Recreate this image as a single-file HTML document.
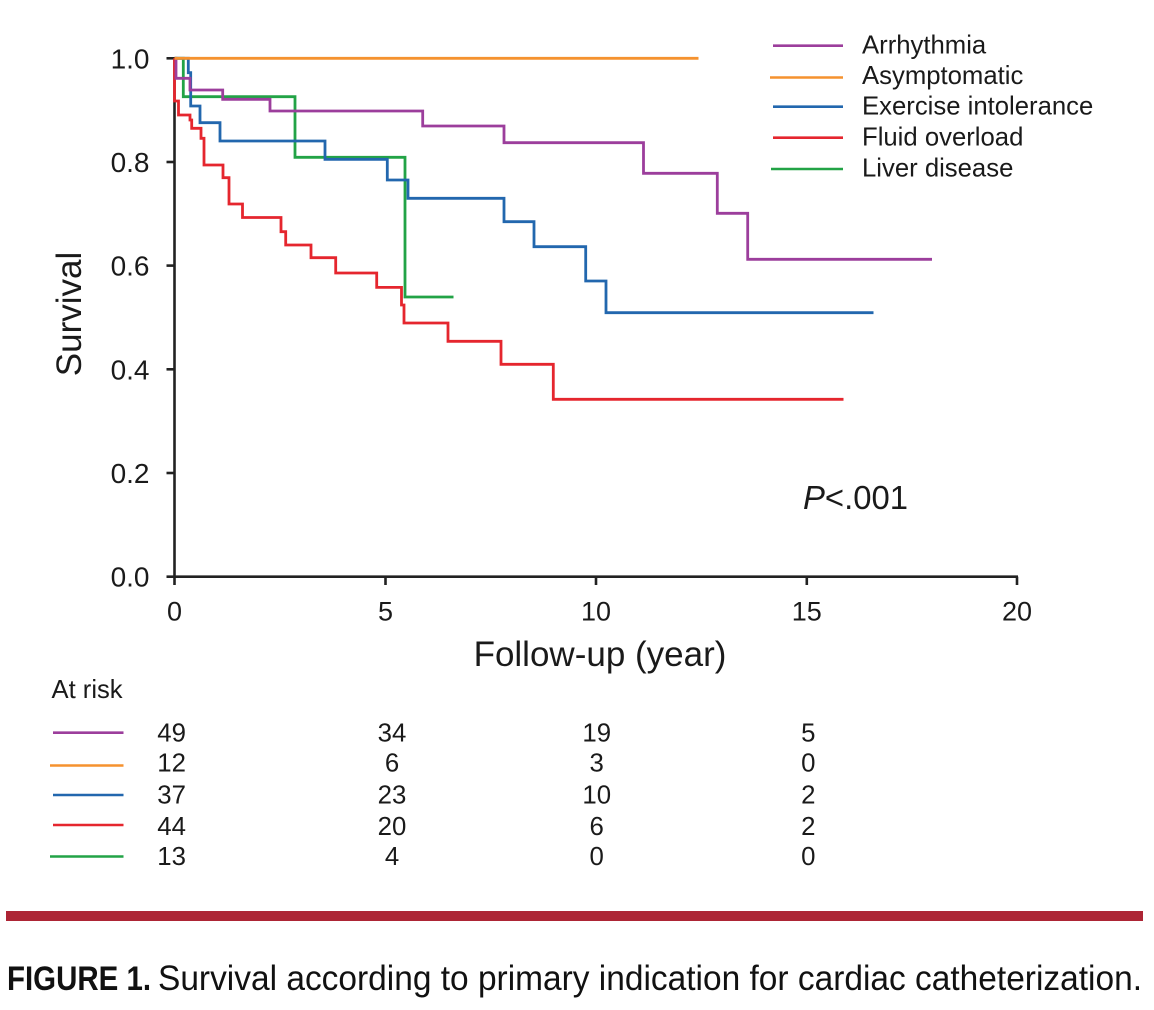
<!DOCTYPE html>
<html>
<head>
<meta charset="utf-8">
<style>
  html, body { margin: 0; padding: 0; background: #ffffff; }
  svg { display: block; }
  text { font-family: "Liberation Sans", Arial, sans-serif; fill: #1a1a1a; }
</style>
</head>
<body>
<svg width="1154" height="1010" viewBox="0 0 1154 1010" xmlns="http://www.w3.org/2000/svg">
  <rect x="0" y="0" width="1154" height="1010" fill="#ffffff"/>

  <!-- Axes -->
  <g stroke="#222" stroke-width="2.6" fill="none">
    <line x1="174.5" y1="57" x2="174.5" y2="585"/>
    <line x1="166.5" y1="576.7" x2="1018" y2="576.7"/>
    <!-- y ticks -->
    <line x1="166.5" y1="58.3" x2="174.5" y2="58.3"/>
    <line x1="166.5" y1="162" x2="174.5" y2="162"/>
    <line x1="166.5" y1="265.6" x2="174.5" y2="265.6"/>
    <line x1="166.5" y1="369.3" x2="174.5" y2="369.3"/>
    <line x1="166.5" y1="473" x2="174.5" y2="473"/>
    <!-- x ticks -->
    <line x1="385.5" y1="576.7" x2="385.5" y2="585"/>
    <line x1="596" y1="576.7" x2="596" y2="585"/>
    <line x1="806.8" y1="576.7" x2="806.8" y2="585"/>
    <line x1="1017" y1="576.7" x2="1017" y2="585"/>
  </g>

  <!-- Y tick labels -->
  <g font-size="28" text-anchor="end">
    <text x="149.5" y="68.3">1.0</text>
    <text x="149.5" y="172">0.8</text>
    <text x="149.5" y="275.6">0.6</text>
    <text x="149.5" y="379.3">0.4</text>
    <text x="149.5" y="483">0.2</text>
    <text x="149.5" y="586.7">0.0</text>
  </g>
  <!-- X tick labels -->
  <g font-size="27" text-anchor="middle">
    <text x="174.5" y="620.5">0</text>
    <text x="385.5" y="620.5">5</text>
    <text x="596" y="620.5">10</text>
    <text x="806.8" y="620.5">15</text>
    <text x="1017" y="620.5">20</text>
  </g>

  <!-- Axis titles -->
  <text x="600" y="666" font-size="35" text-anchor="middle">Follow-up (year)</text>
  <text transform="translate(81,314) rotate(-90)" font-size="35" text-anchor="middle">Survival</text>

  <!-- Curves -->
  <g fill="none" stroke-width="2.8" stroke-linejoin="miter" stroke-linecap="butt">
    <!-- Green: Liver disease -->
    <path stroke="#22a346" d="M174.5,58.3 H183.3 V96.7 H295 V157.3 H405 V297 H453.5"/>
    <!-- Red: Fluid overload -->
    <path stroke="#e5262e" d="M174.5,58.3 V101 H178.5 V115 H190 V120 H191.7 V128.3 H201 V138.3 H204 V165 H223 V177.7 H229 V204 H242.5 V217.5 H281 V231.7 H285.7 V245 H311 V257.7 H335.7 V273 H376.7 V287.4 H401.5 V305 H404 V323 H448 V341.3 H501 V364.3 H553.3 V399.3 H843.5"/>
    <!-- Blue: Exercise intolerance -->
    <path stroke="#2267ae" d="M174.5,58.3 H188.3 V72.7 H190.7 V106 H200 V122.7 H220 V141 H325 V159.3 H387.3 V180 H408 V198.3 H504 V221.7 H534 V246.7 H585.7 V281 H606 V312.7 H873.5"/>
    <!-- Purple: Arrhythmia -->
    <path stroke="#9c3e9c" d="M174.5,58.3 H176 V78.3 H190 V90 H222.7 V99.3 H270 V111 H422.7 V126 H504 V142.7 H643.5 V173.3 H717.3 V213.3 H747.7 V259.3 H932"/>
    <!-- Orange: Asymptomatic -->
    <path stroke="#f5922f" d="M174.5,58.3 H698.5"/>
  </g>

  <!-- Legend -->
  <g stroke-width="2.6">
    <line x1="773" y1="45.7" x2="843" y2="45.7" stroke="#9c3e9c"/>
    <line x1="770" y1="77.5" x2="843" y2="77.5" stroke="#f5922f"/>
    <line x1="773" y1="106.7" x2="843" y2="106.7" stroke="#2267ae"/>
    <line x1="773" y1="137.7" x2="843" y2="137.7" stroke="#e5262e"/>
    <line x1="771" y1="169" x2="843" y2="169" stroke="#22a346"/>
  </g>
  <g font-size="25.7">
    <text x="862" y="53.5">Arrhythmia</text>
    <text x="862" y="84">Asymptomatic</text>
    <text x="862" y="114.5">Exercise intolerance</text>
    <text x="862" y="145.5">Fluid overload</text>
    <text x="862" y="176.5">Liver disease</text>
  </g>

  <!-- P value -->
  <text x="803" y="509" font-size="33" textLength="105" lengthAdjust="spacingAndGlyphs"><tspan font-style="italic">P</tspan>&lt;.001</text>

  <!-- At risk table -->
  <text x="51.5" y="698" font-size="25.6">At risk</text>
  <g stroke-width="2.6">
    <line x1="53" y1="732.7" x2="123.5" y2="732.7" stroke="#9c3e9c"/>
    <line x1="50" y1="765.5" x2="123.5" y2="765.5" stroke="#f5922f"/>
    <line x1="53" y1="795" x2="123.5" y2="795" stroke="#2267ae"/>
    <line x1="53" y1="825" x2="123.5" y2="825" stroke="#e5262e"/>
    <line x1="50" y1="856.5" x2="123.5" y2="856.5" stroke="#22a346"/>
  </g>
  <g font-size="25.8" text-anchor="middle">
    <text x="171.6" y="741.7">49</text>
    <text x="171.6" y="771.7">12</text>
    <text x="171.6" y="803.3">37</text>
    <text x="171.6" y="835">44</text>
    <text x="171.6" y="865">13</text>

    <text x="392" y="741.7">34</text>
    <text x="392" y="771.7">6</text>
    <text x="392" y="803.3">23</text>
    <text x="392" y="835">20</text>
    <text x="392" y="865">4</text>

    <text x="596.7" y="741.7">19</text>
    <text x="596.7" y="771.7">3</text>
    <text x="596.7" y="803.3">10</text>
    <text x="596.7" y="835">6</text>
    <text x="596.7" y="865">0</text>

    <text x="808.3" y="741.7">5</text>
    <text x="808.3" y="771.7">0</text>
    <text x="808.3" y="803.3">2</text>
    <text x="808.3" y="835">2</text>
    <text x="808.3" y="865">0</text>
  </g>

  <!-- Red divider bar -->
  <rect x="6" y="911" width="1137" height="10" fill="#ad2535"/>

  <!-- Caption -->
  <text x="7" y="990" font-size="34" font-weight="bold" textLength="144" lengthAdjust="spacingAndGlyphs" style="fill:#111">FIGURE 1.</text>
  <text x="158" y="990" font-size="35" textLength="984" lengthAdjust="spacingAndGlyphs" style="fill:#111">Survival according to primary indication for cardiac catheterization.</text>
</svg>
</body>
</html>
